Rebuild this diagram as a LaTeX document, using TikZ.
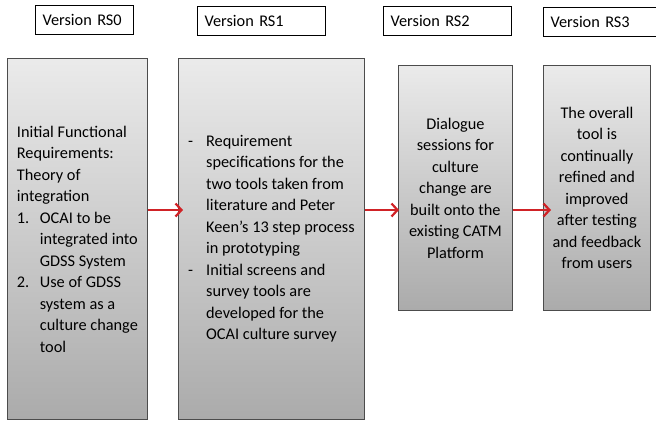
\documentclass[tikz,border=0pt]{standalone}
\usepackage{fontspec}
\setmainfont{Carlito}
\usetikzlibrary{arrows.meta}

\definecolor{flowred}{RGB}{208,34,38}
\newcommand{\lbl}[2]{\makebox[#1][l]{#2}}

\tikzset{
  version/.style={draw, line width=1.3pt, fill=white, anchor=north west,
    minimum height=29pt, inner xsep=7pt, align=left},
  stage/.style={draw=black!70, line width=0.8pt, top color=black!8,
    bottom color=black!33, anchor=north west, inner sep=0pt},
  flow/.style={draw=flowred, line width=2.2pt,
    -{Straight Barb[length=6pt,width=13pt,line width=2.2pt]}}
}

\begin{document}
\begin{tikzpicture}[x=1pt, y=-1pt, font=\fontsize{16.3pt}{21.5pt}\selectfont]
    \useasboundingbox (0,0) rectangle (656,421);
    \clip (0,0) rectangle (656,421);

    % version headers
    \node[version, text width=84pt] (hd0) at (35,5) {Version RS0};
    \node[version, text width=114pt] (hd1) at (197,6) {Version RS1};
    \node[version, text width=114pt] (hd2) at (383,6) {Version RS2};
    \node[version, text width=114pt] (hd3) at (543,7) {Version RS3};

    % stage boxes
    \node[stage, minimum width=140pt, minimum height=361pt, align=left] (init) at (7,58)
      {Initial Functional\\
       Requirements:\\
       Theory of\\
       integration\\
       \lbl{23pt}{1.}OCAI to be\\
       \hspace*{23pt}integrated into\\
       \hspace*{23pt}GDSS System\\
       \lbl{23pt}{2.}Use of GDSS\\
       \hspace*{23pt}system as a\\
       \hspace*{23pt}culture change\\
       \hspace*{23pt}tool};
    \node[stage, minimum width=186pt, minimum height=361pt, align=left] (spec) at (178,58)
      {\lbl{18pt}{-}Requirement\\
       \hspace*{18pt}specifications for the\\
       \hspace*{18pt}two tools taken from\\
       \hspace*{18pt}literature and Peter\\
       \hspace*{18pt}Keen’s 13 step process\\
       \hspace*{18pt}in prototyping\\
       \lbl{18pt}{-}Initial screens and\\
       \hspace*{18pt}survey tools are\\
       \hspace*{18pt}developed for the\\
       \hspace*{18pt}OCAI culture survey};
    \node[stage, minimum width=114pt, minimum height=245pt, align=center] (dial) at (398,65)
      {Dialogue\\ sessions for\\ culture\\ change are\\ built onto the\\ existing CATM\\ Platform};
    \node[stage, minimum width=107pt, minimum height=245pt, align=center] (refine) at (543,65)
      {The overall\\ tool is\\ continually\\ refined and\\ improved\\ after testing\\ and feedback\\ from users};

    % arrows
    \coordinate (lvl) at (0,210);
    \draw[flow] (init.east |- lvl) -- ([xshift=5pt]spec.west |- lvl);
    \draw[flow] (spec.east |- lvl) -- ([xshift=1pt]dial.west |- lvl);
    \draw[flow] (dial.east |- lvl) -- ([xshift=8pt]refine.west |- lvl);
\end{tikzpicture}
\end{document}
